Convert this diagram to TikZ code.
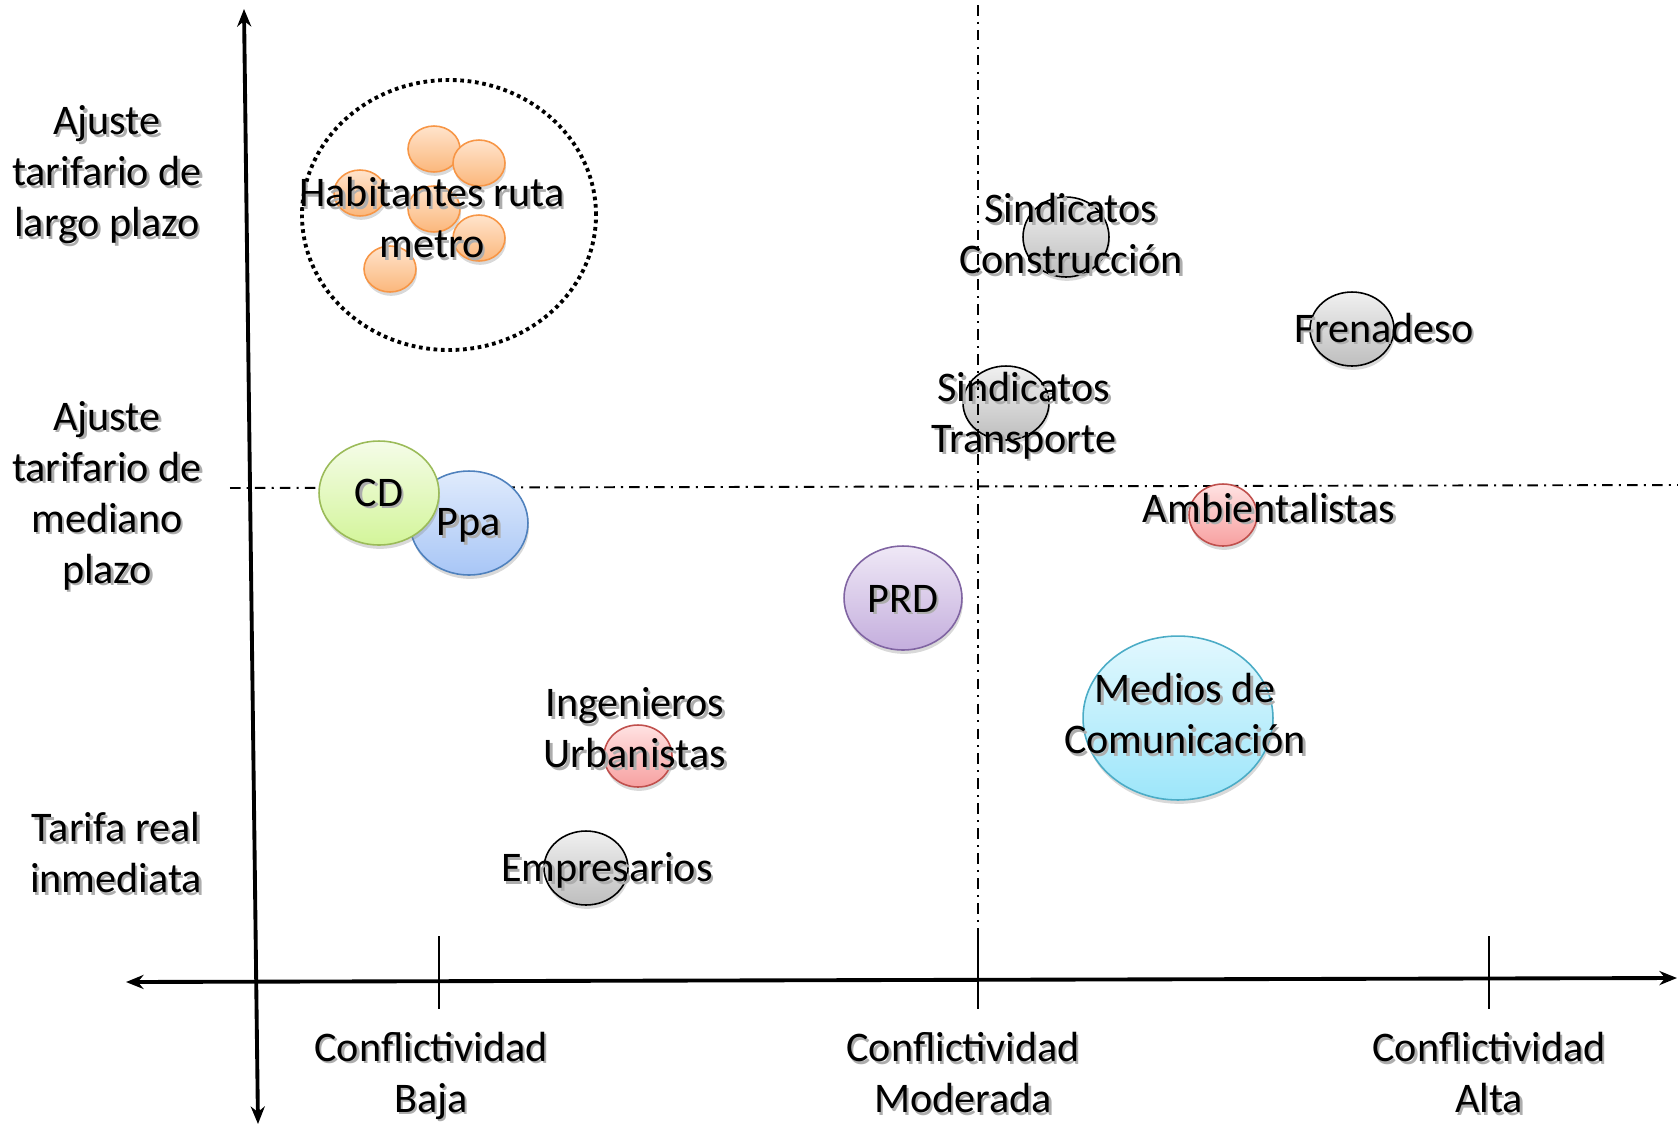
\documentclass[tikz,border=0pt]{standalone}
\usepackage{fontspec}
\setmainfont{Carlito}
\usetikzlibrary{arrows.meta,shapes.geometric,shadows}
\definecolor{orB}{HTML}{F79646}\definecolor{orT}{HTML}{FFE4CC}\definecolor{orBo}{HTML}{FBB77C}
\definecolor{grB}{HTML}{9BBB59}\definecolor{grT}{HTML}{F5FCE8}\definecolor{grBo}{HTML}{D3F59A}
\definecolor{blB}{HTML}{4F81BD}\definecolor{blT}{HTML}{E0EBFC}\definecolor{blBo}{HTML}{A8C6F6}
\definecolor{puB}{HTML}{8064A2}\definecolor{puT}{HTML}{EFE8F6}\definecolor{puBo}{HTML}{C4AEDD}
\definecolor{gyT}{HTML}{F0F0F0}\definecolor{gyBo}{HTML}{BEBEBE}
\definecolor{rdB}{HTML}{C0504D}\definecolor{rdT}{HTML}{FFE2E2}\definecolor{rdBo}{HTML}{F7A0A0}
\definecolor{cyB}{HTML}{4BACC6}\definecolor{cyT}{HTML}{E2F8FE}\definecolor{cyBo}{HTML}{9DE6FA}
\newcommand\shd[1]{\leavevmode\rlap{\hspace{1.4pt}\raisebox{-1.4pt}{\textcolor{black!32}{#1}}}#1}
\tikzset{
  lbl/.style={align=center, font=\fontsize{24}{29}\selectfont, inner sep=0pt},
  bub/.style 2 args={ellipse, inner sep=0pt, line width=0.9pt,
     minimum width=#1*0.04cm, minimum height=#2*0.04cm,
     drop shadow={shadow xshift=0.6pt, shadow yshift=-2.2pt, opacity=0.3}},
  orb/.style={draw=orB, top color=orT, bottom color=orBo},
  grb/.style={draw=grB, top color=grT, bottom color=grBo},
  blb/.style={draw=blB, top color=blT, bottom color=blBo},
  pub/.style={draw=puB, top color=puT, bottom color=puBo},
  gyb/.style={draw=black, top color=gyT, bottom color=gyBo},
  rdb/.style={draw=rdB, top color=rdT, bottom color=rdBo},
  cyb/.style={draw=cyB, top color=cyT, bottom color=cyBo},
  axisline/.style={line width=2.2pt, {Stealth[length=10pt,width=8pt]}-{Stealth[length=10pt,width=8pt]}},
  ddline/.style={line width=1.1pt, dash pattern=on 6pt off 3.5pt on 1.2pt off 3.5pt},
  tickline/.style={line width=1.1pt},
  dotring/.style={ellipse, draw, line width=2.2pt, dash pattern=on 2.1pt off 2.1pt, inner sep=0pt}
}
\begin{document}
\begin{tikzpicture}[x=0.02cm,y=-0.02cm]
\useasboundingbox (0,0) rectangle (1678,1127);
% axes coordinates
\coordinate (vt) at (244,9);
\coordinate (vb) at (258,1124);
\coordinate (hl) at (126,982);
\coordinate (hr) at (1677,978);
\coordinate (t1a) at (439,936); \coordinate (t1b) at (439,1009);
\coordinate (t2a) at (978,936); \coordinate (t2b) at (978,1009);
\coordinate (t3a) at (1489,936); \coordinate (t3b) at (1489,1009);
\coordinate (dvt) at (978,5);
\coordinate (dhl) at (230,488); \coordinate (dhr) at (1678,485);
% horizontal dash-dot
\draw[ddline] (dhl) -- (dhr);
% axes
\draw[axisline] (vb) -- (vt);
\draw[axisline] (hl) -- (hr);
\draw[tickline] (t1a) -- (t1b);
\draw[tickline] (t2a) -- (t2b);
\draw[tickline] (t3a) -- (t3b);
% bubbles
\node[dotring, minimum width=294*0.02cm, minimum height=270*0.02cm] (ring) at (449,215) {};
\node[bub={26}{23}, orb] (o1) at (434,149) {};
\node[bub={26}{23}, orb] (o2) at (479,163) {};
\node[bub={26}{23}, orb] (o3) at (360,193) {};
\node[bub={26}{23}, orb] (o4) at (434,209) {};
\node[bub={26}{23}, orb] (o5) at (479,238) {};
\node[bub={26}{23}, orb] (o6) at (390,269) {};
\node[bub={59}{52}, blb] (ppa) at (469,523) {};
\node[bub={60}{52}, grb] (cd) at (379,493) {};
\node[bub={59}{52}, pub] (prd) at (903,598) {};
\node[bub={43}{40}, gyb] (sc) at (1066,237) {};
\node[bub={42}{37}, gyb] (fr) at (1352,329) {};
\node[bub={43}{37}, gyb] (st) at (1006,403) {};
\node[bub={34}{31}, rdb] (am) at (1223,515) {};
\node[bub={95}{82}, cyb] (me) at (1178,718) {};
\node[bub={34}{31}, rdb] (iu) at (638,756) {};
\node[bub={42}{37}, gyb] (em) at (586,868) {};
% vertical dash-dot
\draw[ddline] (dvt) -- (t2a);
% axis labels
\node[lbl] (l1) at (107,176) {\shd{Ajuste}\\\shd{tarifario de}\\\shd{largo plazo}};
\node[lbl] (l2) at (107,497) {\shd{Ajuste}\\\shd{tarifario de}\\\shd{mediano}\\\shd{plazo}};
\node[lbl] (l3) at (116,854) {\shd{Tarifa real}\\\shd{inmediata}};
\node[lbl] (b1) at (431,1077) {\shd{Conflictividad}\\\shd{Baja}};
\node[lbl] (b2) at (963,1074) {\shd{Conflictividad}\\\shd{Moderada}};
\node[lbl] (b3) at (1489,1074) {\shd{Conflictividad}\\\shd{Alta}};
% bubble labels
\node[lbl] (thab) at (432,219) {\shd{Habitantes ruta}\\\shd{metro}};
\node[lbl] (tcd) at (379,494) {\shd{CD}};
\node[lbl] (tppa) at (469,527) {\shd{Ppa}};
\node[lbl] (tprd) at (903,600) {\shd{PRD}};
\node[lbl] (tsc) at (1071,235) {\shd{Sindicatos}\\\shd{Construcción}};
\node[lbl] (tfr) at (1384,329) {\shd{Frenadeso}};
\node[lbl] (tst) at (1024,417) {\shd{Sindicatos}\\\shd{Transporte}};
\node[lbl] (tam) at (1269,509) {\shd{Ambientalistas}};
\node[lbl] (tme) at (1185,715) {\shd{Medios de}\\\shd{Comunicación}};
\node[lbl] (tiu) at (635,729) {\shd{Ingenieros}\\\shd{Urbanistas}};
\node[lbl] (tem) at (607,872) {\shd{Empresarios}};
\end{tikzpicture}
\end{document}
